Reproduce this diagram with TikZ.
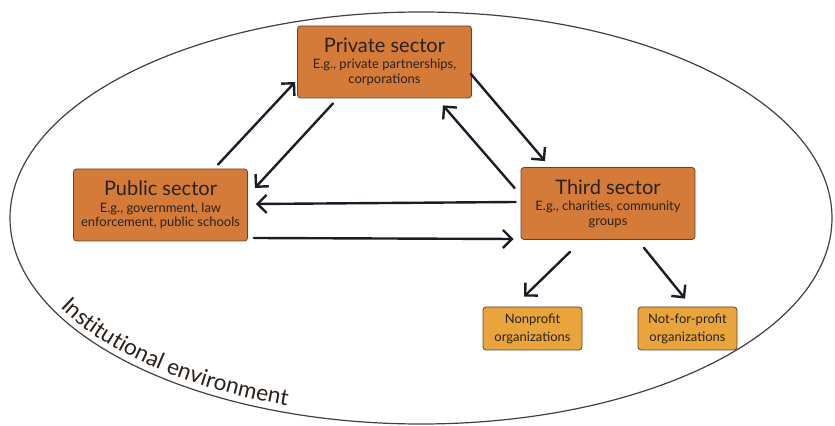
\documentclass[tikz,border=0pt]{standalone}
\usepackage{fontspec}
\setmainfont{Lato}
\usetikzlibrary{arrows.meta}
\usetikzlibrary{shapes}
\usetikzlibrary{decorations.text}

\definecolor{sectororange}{HTML}{D57B39}
\definecolor{orgorange}{HTML}{E9A53C}
\definecolor{boxline}{HTML}{5B4636}
\definecolor{ink}{HTML}{1C1C28}
\definecolor{txt}{HTML}{2B211B}

\newcommand{\sectortitle}{\fontsize{10}{12}\selectfont}
\newcommand{\sectorsub}{\fontsize{6.5}{7.4}\selectfont}
\newcommand{\envfont}{\fontsize{11.3}{14}\selectfont}

\begin{document}
\begin{tikzpicture}[x=0.5pt, y=0.5pt,
  sectorbox/.style={draw=boxline, line width=0.4pt, fill=sectororange, rounded corners=1.5pt,
    minimum width=87pt, minimum height=36pt, inner sep=0pt, align=center, text=txt, font=\sectorsub},
  orgbox/.style={draw=boxline, line width=0.4pt, fill=orgorange, rounded corners=1.5pt,
    minimum width=49.5pt, minimum height=21.5pt, inner sep=0pt, align=center, text=txt,
    font=\fontsize{6.5}{9}\selectfont},
  flow/.style={ink, line width=1.2pt, line cap=round, -{Straight Barb[length=4.5pt,width=9pt]}}]

  \useasboundingbox (0,0) rectangle (835,-426);

  \node[draw=black!75, line width=0.6pt, ellipse, minimum width=411pt, minimum height=206pt,
    inner sep=0pt] (env) at (421,-218) {};

  \node[sectorbox] (private) at (384.5,-62)
    {{\sectortitle Private sector}\\[0.8pt]E.g., private partnerships,\\corporations};
  \node[sectorbox] (public) at (160.5,-205)
    {{\sectortitle Public sector}\\[0.8pt]E.g., government, law\\enforcement, public schools};
  \node[sectorbox] (third) at (608,-203.5)
    {{\sectortitle Third sector}\\[0.8pt]E.g., charities, community\\groups};

  \node[orgbox] (nonprofit) at (532.5,-328.5) {Nonprofit\\organizations};
  \node[orgbox] (notforprofit) at (687.5,-328.5) {Not-for-profit\\organizations};

  \draw[flow] ([xshift=28.75pt,yshift=2pt]public.north) -- ([xshift=-1pt,yshift=-10pt]private.west);
  \draw[flow] ([xshift=-25.75pt,yshift=-2.5pt]private.south) -- ([xshift=3.5pt,yshift=8.5pt]public.east);
  \draw[flow] ([xshift=-0.5pt,yshift=-6pt]private.east) -- ([xshift=-31.5pt,yshift=3pt]third.north);
  \draw[flow] ([xshift=-3pt,yshift=7.75pt]third.west) -- ([xshift=29.25pt,yshift=-3.5pt]private.south);
  \draw[flow] ([xshift=-2.5pt,yshift=0.75pt]third.west) -- ([xshift=4pt,yshift=0.5pt]public.east);
  \draw[flow] ([xshift=3pt,yshift=-16.5pt]public.east) -- ([xshift=-3.5pt,yshift=-17.75pt]third.west);
  \draw[flow] ([xshift=-19pt,yshift=-6pt]third.south) -- ([xshift=-4.25pt,yshift=5pt]nonprofit.north);
  \draw[flow] ([xshift=18pt,yshift=-4pt]third.south) -- ([xshift=-1.25pt,yshift=4pt]notforprofit.north);

  \path[decorate, decoration={text along path, text color=txt,
      text={|\envfont|Institutional environment}}]
    (env.center) ++(206.7:202pt and 99.5pt)
    arc[start angle=206.7, end angle=260, x radius=202pt, y radius=99.5pt];
\end{tikzpicture}
\end{document}
